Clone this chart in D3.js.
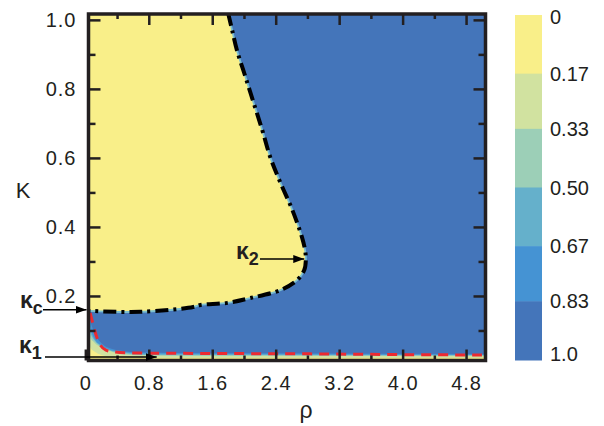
<!DOCTYPE html>
<html>
<head>
<meta charset="utf-8">
<script src="https://cdn.jsdelivr.net/npm/d3@7"></script>
<style>
body{margin:0;background:#fff;}
text{font-family:"Liberation Sans",Arial,sans-serif;fill:#231f20;}
</style>
</head>
<body>
<script>
// yellow / blue border (black dash-dot), from the top edge round to the left edge
var edgeRho=[1.80,1.85,1.91,2.01,2.11,2.23,2.33,2.46,2.61,2.73,2.77,2.78,2.76,2.67,2.46,2.08,1.79,1.45,1.36,0.69,0.04];
var edgeKappa=[1.02,0.971,0.913,0.841,0.768,0.681,0.603,0.528,0.449,0.371,0.333,0.304,0.275,0.246,0.217,0.194,0.180,0.174,0.168,0.154,0.157];

// kappa_1 line (red dashes)
var k1Rho=[0.06,0.10,0.135,0.175,0.26,0.36,0.56,1.0,2.0,3.0,4.0,5.0];
var k1Kappa=[0.151,0.116,0.087,0.064,0.043,0.038,0.035,0.034,0.033,0.032,0.030,0.029];

// level lines in the lower left corner (value 0.17 ... 0.83)
var contourRho=[0.04,0.06,0.12,0.2,0.3,0.45,0.7,1.2,5.045];
var lev17=[0.067,0.052,0.038,0.029,0.025,0.023,0.022,0.020,0.020];
var lev33=[0.101,0.081,0.064,0.051,0.041,0.032,0.028,0.026,0.026];
var lev50=[0.119,0.096,0.070,0.054,0.043,0.036,0.030,0.029,0.028];
var lev67=[0.136,0.110,0.074,0.057,0.045,0.038,0.033,0.032,0.029];
var lev83=[0.151,0.130,0.090,0.064,0.049,0.041,0.036,0.035,0.032];

// colour bar
var cbStops=[0,0.17,0.33,0.50,0.67,0.83,1.0];
var cbLabels=["0","0.17","0.33","0.50","0.67","0.83","1.0"];
var cbColors=["#f9ef89","#d1e2a0","#9ccfb7","#65b0cb","#4593d3","#4475ba"];

// ticks
var xMajor=[0,0.8,1.6,2.4,3.2,4.0,4.8];
var xMinor=[0.4,1.2,2.0,2.8,3.6,4.4];
var yMajor=[0.2,0.4,0.6,0.8,1.0];
var yMinor=[0.1,0.3,0.5,0.7,0.9];

// marked points
var kappaC=0.16, kappa1=0.023, rho1=0.9, kappa2=0.307, rho2=2.76;

var svg=d3.select("body").append("svg").attr("width",604).attr("height",426);

var x=d3.scaleLinear().domain([0.04,5.045]).range([88.5,485.5]);
var y=d3.scaleLinear().domain([0.013,1.017]).range([360.5,14]);

svg.append("defs").append("clipPath").attr("id","plot")
  .append("rect").attr("x",x(0.04)).attr("y",y(1.017))
  .attr("width",x(5.045)-x(0.04)).attr("height",y(0.013)-y(1.017));

svg.select("defs").append("marker")
  .attr("id","head").attr("markerUnits","userSpaceOnUse")
  .attr("markerWidth",12).attr("markerHeight",8)
  .attr("refX",11).attr("refY",4).attr("orient","auto")
  .append("path").attr("d","M0,0L11,4L0,8Z").attr("fill","#000");

var plot=svg.append("g").attr("clip-path","url(#plot)");

// base colour = value 0
plot.append("rect").attr("x",x(0.04)).attr("y",y(1.017))
  .attr("width",x(5.045)-x(0.04)).attr("height",y(0.013)-y(1.017))
  .attr("fill",cbColors[0]);

// bands, each filled from its level line up to the top
var levels=[lev17,lev33,lev50,lev67,lev83];
var band=d3.area()
  .x(function(d,i){return x(contourRho[i]);})
  .y0(y(1.017))
  .y1(function(d){return y(d);})
  .curve(d3.curveMonotoneX);
plot.selectAll("path.band")
  .data(levels)
  .enter().append("path")
  .attr("class","band")
  .attr("d",band)
  .attr("fill",function(d,i){return cbColors[i+1];});

// yellow region top left
var edgePts=edgeRho.map(function(r,i){return [x(r),y(edgeKappa[i])];});
var edgeLine=d3.line().curve(d3.curveCatmullRom);
plot.append("path")
  .attr("d",edgeLine(edgePts)+"L"+x(0.04)+","+y(1.017)+"Z")
  .attr("fill",cbColors[0]);

plot.append("path").attr("d",edgeLine(edgePts))
  .attr("fill","none").attr("stroke","#7cc0cf").attr("stroke-width",1.8);
plot.append("path").attr("d",edgeLine(edgePts))
  .attr("fill","none").attr("stroke","#000").attr("stroke-width",4)
  .attr("stroke-dasharray","13,5,3,5");

// kappa_1 red dashes
var k1Line=d3.line()
  .x(function(d,i){return x(k1Rho[i]);})
  .y(function(d){return y(d);})
  .curve(d3.curveMonotoneX);
plot.append("path").datum(k1Kappa).attr("d",k1Line)
  .attr("fill","none").attr("stroke","#ec2a30").attr("stroke-width",3)
  .attr("stroke-dasharray","10,7");

// ticks, inward on all four sides
function ticks(axis,pos,vals,len,labels){
  var g=svg.append("g").attr("transform",pos)
    .call(axis.tickValues(vals).tickSize(-len).tickPadding(labels?labels.pad:0)
      .tickFormat(labels?labels.fmt:""));
  g.select(".domain").remove();
  g.selectAll("line").attr("stroke","#231f20").attr("stroke-width",2.5);
  g.selectAll("text").attr("font-size",20).attr("letter-spacing",1)
    .attr("font-family","Liberation Sans, Arial, sans-serif").attr("fill","#231f20");
  return g;
}
var fx=function(d){return d===0?"0":d3.format(".1f")(d);};
ticks(d3.axisBottom(x),"translate(0,"+y(0.013)+")",xMajor,11,{pad:15,fmt:fx});
ticks(d3.axisBottom(x),"translate(0,"+y(0.013)+")",xMinor,5);
ticks(d3.axisTop(x),"translate(0,"+y(1.017)+")",xMajor.slice(1),11);
ticks(d3.axisTop(x),"translate(0,"+y(1.017)+")",xMinor,5);
ticks(d3.axisLeft(y),"translate("+x(0.04)+",0)",yMajor,12,{pad:12,fmt:d3.format(".1f")});
ticks(d3.axisLeft(y),"translate("+x(0.04)+",0)",yMinor,7);
ticks(d3.axisRight(y),"translate("+x(5.045)+",0)",yMajor,12);
ticks(d3.axisRight(y),"translate("+x(5.045)+",0)",yMinor,7);

// frame
svg.append("rect").attr("x",x(0.04)).attr("y",y(1.017))
  .attr("width",x(5.045)-x(0.04)).attr("height",y(0.013)-y(1.017))
  .attr("fill","none").attr("stroke","#231f20").attr("stroke-width",3.5);

// axis titles
svg.append("text").attr("x",23).attr("y",198).attr("text-anchor","middle")
  .attr("font-size",22).text("Κ");
svg.append("text").attr("x",306).attr("y",418).attr("text-anchor","middle")
  .attr("font-size",23).text("ρ");

// colour bar
var cb=d3.scaleLinear().domain([0,1]).range([15,360]);
svg.selectAll("rect.cb")
  .data(cbColors)
  .enter().append("rect")
  .attr("class","cb")
  .attr("x",515).attr("width",27)
  .attr("y",function(d,i){return cb(cbStops[i]);})
  .attr("height",function(d,i){return cb(cbStops[i+1])-cb(cbStops[i])+0.5;})
  .attr("fill",function(d){return d;});
svg.selectAll("text.cb")
  .data(cbLabels)
  .enter().append("text")
  .attr("class","cb")
  .attr("x",550)
  .attr("y",function(d,i){return Math.min(Math.max(cb(cbStops[i]),17),354);})
  .attr("dy","0.35em")
  .attr("font-size",20)
  .text(function(d){return d;});

// marked kappa values
function mark(tx,ty,sub,x1,y1,x2,y2){
  var t=svg.append("text").attr("x",tx).attr("y",ty).attr("font-size",23).attr("font-weight","bold");
  t.append("tspan").text("κ");
  t.append("tspan").attr("font-size",18).attr("dy",6).text(sub);
  svg.append("line").attr("x1",x1).attr("y1",y1).attr("x2",x2).attr("y2",y2)
    .attr("stroke","#000").attr("stroke-width",1.6).attr("marker-end","url(#head)");
}
mark(20,308,"c",43,y(kappaC),x(0.04)-2,y(kappaC));
mark(19,353,"1",45,y(kappa1),x(rho1),y(kappa1));
mark(236,259,"2",260,y(kappa2),x(rho2),y(kappa2));
</script>
</body>
</html>
